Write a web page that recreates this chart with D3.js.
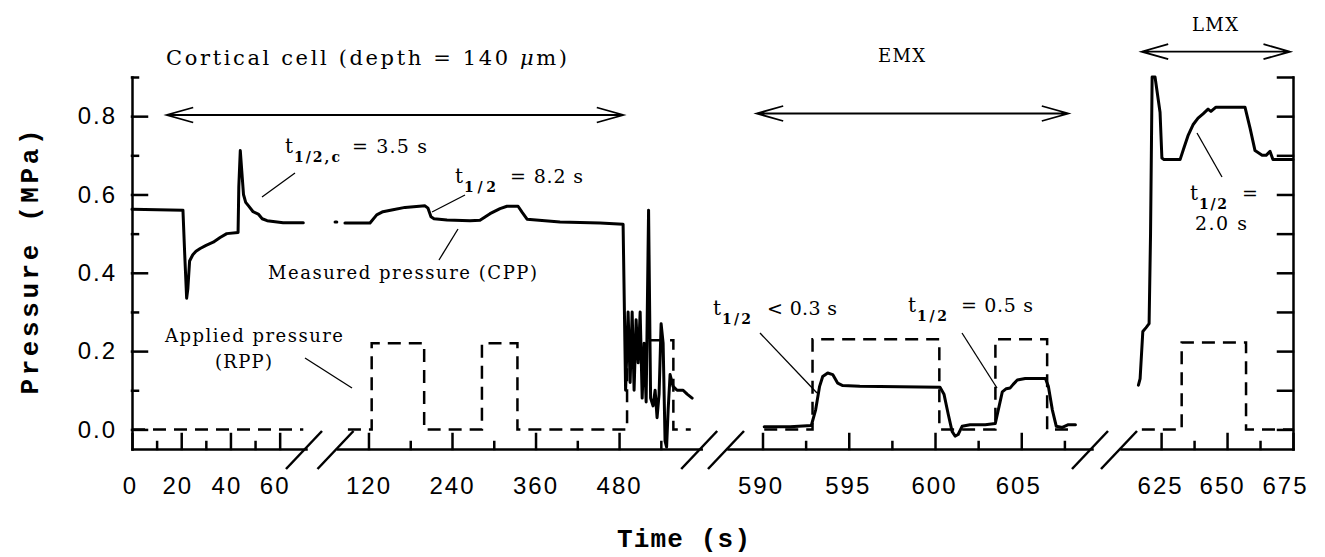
<!DOCTYPE html>
<html>
<head>
<meta charset="utf-8">
<script src="https://cdn.jsdelivr.net/npm/d3@7"></script>
<style>
  html, body { margin: 0; padding: 0; background: #fff; }
  svg { display: block; }
  .axis path, .axis line { stroke: #000; stroke-width: 2.5; stroke-linecap: square; }
  .axis text { font-family: "Liberation Sans", Arial, sans-serif; font-size: 24px; letter-spacing: 2px; fill: #000; }
  .title { font-family: "Liberation Mono", "Courier New", monospace; font-weight: bold; font-size: 26px; fill: #000; }
  .ann { font-family: "DejaVu Serif", serif; fill: #000; }
  .cpp { fill: none; stroke: #000; stroke-width: 3; stroke-linejoin: round; stroke-linecap: round; }
  .rpp { fill: none; stroke: #000; stroke-width: 2.5; stroke-dasharray: 13 8; }
  .lead { stroke: #000; stroke-width: 1.3; }
  .arrow { fill: none; stroke: #000; stroke-width: 1.8; }
</style>
</head>
<body>
<svg id="svg" width="1325" height="557"></svg>
<script>
// broken time axis: four pieces
const segDomain = [[0, 70.7], [75.5, 598], [588, 609.1], [609.8, 675]];
const xMajor = [[0, 20, 40, 60], [120, 240, 360, 480], [590, 595, 600, 605], [625, 650, 675]];
const xMinor = [[10, 30, 50], [180, 300, 420, 540], [592.5, 597.5, 602.5, 607.5], [637.5, 662.5]];
const yMajor = [0, 0.2, 0.4, 0.6, 0.8];
const yMinor = [0.1, 0.3, 0.5, 0.7, 0.9];

// measured pressure (CPP), [time s, MPa]
const cpp1 = [[0, 0.562], [20.7, 0.560], [21.4, 0.45], [22.2, 0.335], [22.7, 0.36], [23.4, 0.43], [24.7, 0.446],
  [26, 0.455], [27.7, 0.462], [30.1, 0.47], [33, 0.478], [35.8, 0.49], [38.5, 0.5], [43.1, 0.503],
  [43.4, 0.62], [44, 0.712], [44.6, 0.66], [45.3, 0.6], [46.2, 0.58], [47.2, 0.572], [49.2, 0.556],
  [51.3, 0.55], [52.9, 0.538], [54.9, 0.533], [61.4, 0.528], [69.6, 0.528]];
const cppDot = [[72, 0.53], [74.5, 0.53]];
const cpp2 = [[86.2, 0.527], [122.2, 0.527], [131.8, 0.548], [140.8, 0.556], [155.2, 0.561], [172.5, 0.567],
  [201.2, 0.571], [205.5, 0.565], [209.8, 0.543], [214.1, 0.538], [232.8, 0.535], [265.9, 0.533],
  [280.2, 0.534], [294.6, 0.551], [309, 0.564], [319, 0.57], [334.9, 0.57], [340.6, 0.555], [347.8, 0.537],
  [395.2, 0.53], [452.7, 0.527], [485.8, 0.524], [489.4, 0.10], [493, 0.30], [495.9, 0.12], [498.8, 0.30],
  [501.6, 0.10], [504.5, 0.28], [507.4, 0.17], [510.3, 0.30], [513.2, 0.08], [516, 0.22], [518.9, 0.07],
  [522.4, 0.56], [525.3, 0.08], [528.9, 0.06], [531.8, 0.10], [534.6, 0.03], [537.5, 0.09], [540.4, 0.27],
  [543.3, 0.22], [546.1, -0.03], [548.3, -0.045], [550.5, 0.05], [553.3, 0.14], [557.6, 0.11],
  [563.4, 0.10], [572, 0.10], [577.8, 0.09], [585, 0.08]];
const cpp3 = [[590.1, 0.007], [591.6, 0.007], [592.83, 0.01], [593.08, 0.05], [593.31, 0.11], [593.49, 0.135],
  [593.78, 0.144], [594.07, 0.14], [594.36, 0.118], [594.65, 0.112], [595.64, 0.11], [597.97, 0.109],
  [600.29, 0.108], [600.52, 0.09], [600.76, 0.04], [600.99, -0.005], [601.16, -0.017], [601.34, -0.013],
  [601.57, 0.008], [602.03, 0.012], [602.91, 0.012], [603.49, 0.015], [603.72, 0.06], [603.9, 0.096],
  [604.13, 0.104], [604.36, 0.106], [604.53, 0.115], [604.77, 0.126], [605.23, 0.13], [606.4, 0.13],
  [606.57, 0.11], [606.8, 0.05], [607.03, 0.008], [607.38, 0.005], [607.73, 0.012], [608.14, 0.012]];
const cpp4 = [[616.4, 0.113], [617.05, 0.13], [618.07, 0.25], [619.3, 0.26], [620.45, 0.27], [621, 0.5],
  [621.6, 0.9], [622.7, 0.9], [624.6, 0.81], [625.3, 0.693], [626.1, 0.689], [632.2, 0.689], [633.7, 0.72],
  [635.2, 0.75], [637.1, 0.778], [639, 0.795], [640.9, 0.806], [642.8, 0.818], [643.9, 0.812],
  [645.8, 0.823], [656.8, 0.823], [658.7, 0.77], [660.6, 0.712], [663.3, 0.7], [664.8, 0.7],
  [666.3, 0.71], [667.4, 0.689], [675, 0.689]];

// applied pressure (RPP)
const rpp1 = [[0, 0], [69.6, 0]];
const rpp2 = [[90.5, 0], [124.6, 0], [124.6, 0.22], [200, 0.22], [200, 0], [283, 0], [283, 0.22], [334, 0.22],
  [334, 0], [491.5, 0], [491.5, 0.228], [558, 0.228], [558, 0], [583, 0]];
const rpp3 = [[590.1, 0], [592.9, 0], [592.9, 0.23], [600.25, 0.23], [600.25, 0], [603.5, 0], [603.5, 0.23],
  [606.5, 0.23], [606.5, 0], [608.1, 0]];
const rpp4 = [[617.7, 0], [632.8, 0], [632.8, 0.222], [657.2, 0.222], [657.2, 0], [675, 0]];

const cppSeg = [cpp1, cpp2, cpp3, cpp4];
const rppSeg = [rpp1, rpp2, rpp3, rpp4];

// layout
const segRange = [[132, 306], [337.5, 701.2], [728, 1092], [1121, 1293]];
const labelShift = [[-2, -4, -4, -5], [0, 0, 0, 0], [-2, -1, -1, -3], [-1, -5, -8]];
const axisY = 449;

const svg = d3.select('#svg');
const y = d3.scaleLinear().domain([-0.05, 0.9]).range([axisY, 77]);
const xs = segDomain.map((d, i) => d3.scaleLinear().domain(d).range(segRange[i]));

// bottom axis pieces
xs.forEach((x, i) => {
  const g = svg.append('g').attr('class', 'axis').attr('transform', `translate(0,${axisY})`)
    .call(d3.axisBottom(x).tickValues(xMajor[i]).tickSize(-15).tickSizeOuter(0).tickPadding(28).tickFormat(d3.format('d')));
  g.selectAll('.tick text').attr('dx', (d, j) => labelShift[i][j]);
  svg.append('g').attr('class', 'axis').attr('transform', `translate(0,${axisY})`)
    .call(d3.axisBottom(x).tickValues(xMinor[i]).tickSize(-7).tickFormat(''))
    .call(g => g.select('.domain').remove());
});

// break marks
const breaks = [];
for (let i = 0; i < 3; i++) breaks.push(segRange[i][1] - 2, segRange[i + 1][0] - 2);
svg.append('g').selectAll('line').data(breaks).join('line')
  .attr('x1', d => d - 18).attr('y1', 469).attr('x2', d => d + 18).attr('y2', 431)
  .attr('stroke', '#000').attr('stroke-width', 2.5);

// y axes
svg.append('g').attr('class', 'axis').attr('transform', 'translate(132,0)')
  .call(d3.axisLeft(y).tickValues(yMajor).tickSize(-15).tickSizeOuter(0).tickPadding(15).tickFormat(d3.format('.1f')));
svg.append('g').attr('class', 'axis').attr('transform', 'translate(132,0)')
  .call(d3.axisLeft(y).tickValues(yMinor).tickSize(-6).tickFormat(''))
  .call(g => g.select('.domain').remove());
svg.append('g').attr('class', 'axis').attr('transform', 'translate(1293,0)')
  .call(d3.axisRight(y).tickValues(yMajor.concat(yMinor)).tickSize(-15).tickSizeOuter(0).tickFormat(''));

// traces
cppSeg.forEach((d, i) => {
  const line = d3.line().x(p => xs[i](p[0])).y(p => y(p[1]));
  svg.append('path').attr('class', 'rpp').attr('d', line(rppSeg[i]));
  svg.append('path').attr('class', 'cpp').attr('d', line(d));
});
svg.append('path').attr('class', 'cpp').attr('d', d3.line().x(p => xs[1](p[0])).y(p => y(p[1]))(cppDot));

// arrows over the three regions
function arrow(x1, x2, yy) {
  const a = 26.5, b = 7.5;
  svg.append('path').attr('class', 'arrow')
    .attr('d', `M${x1},${yy}H${x2}M${x1 + a},${yy - b}L${x1},${yy}L${x1 + a},${yy + b}M${x2 - a},${yy - b}L${x2},${yy}L${x2 - a},${yy + b}`);
}
arrow(166.7, 623.3, 115);
arrow(756.7, 1068.3, 113.5);
arrow(1141.7, 1290, 51.7);

function text(str, x, yy, size, len, bold) {
  const t = svg.append('text').attr('class', 'ann').attr('x', x).attr('y', yy)
    .attr('font-size', size).text(str);
  if (bold) t.attr('font-weight', 'bold');
  if (len) t.attr('textLength', len).attr('lengthAdjust', 'spacing');
  return t;
}
const cort = svg.append('text').attr('class', 'ann').attr('x', 166).attr('y', 65).attr('font-size', 21)
  .attr('textLength', 401).attr('lengthAdjust', 'spacing');
cort.append('tspan').text('Cortical cell (depth = 140 ');
cort.append('tspan').attr('font-style', 'italic').text('μ');
cort.append('tspan').text('m)');
text('EMX', 878, 62, 18, 47);
text('LMX', 1192, 31, 18, 46);
text('Measured pressure (CPP)', 268, 279, 18, 269);
text('Applied pressure', 165, 342, 18, 178);
text('(RPP)', 215, 368, 18, 57);

// half-time labels
function half(x, yy, sub, subLen, rest, restX, restLen) {
  text('t', x, yy, 20);
  text(sub, x + 9, yy + 9, 14, subLen, true);
  text(rest, restX, yy, 19, restLen);
}
half(285, 153, '1/2,c', 46, '= 3.5 s', 352, 75);
half(455, 183, '1/2', 32, '= 8.2 s', 510, 73);
half(713, 315, '1/2', 29, '< 0.3 s', 767, 70);
half(908, 312, '1/2', 30, '= 0.5 s', 961, 72);
half(1190, 200, '1/2', 28, '=', 1242, null);
text('2.0 s', 1195, 230, 19, 52);

// leader lines
const leads = [[295, 173, 262, 197], [465, 195, 432, 212], [458, 229, 439, 260], [305, 358, 352, 388],
  [760, 333, 817, 393], [962, 333, 997, 388], [1197, 133, 1222, 177]];
svg.append('g').selectAll('line').data(leads).join('line').attr('class', 'lead')
  .attr('x1', d => d[0]).attr('y1', d => d[1]).attr('x2', d => d[2]).attr('y2', d => d[3]);

// axis titles
svg.append('text').attr('class', 'title').attr('text-anchor', 'middle')
  .attr('transform', 'translate(38,262) rotate(-90)').attr('textLength', 265).attr('lengthAdjust', 'spacing')
  .text('Pressure (MPa)');
svg.append('text').attr('class', 'title').attr('x', 617).attr('y', 547)
  .attr('textLength', 133).attr('lengthAdjust', 'spacing').text('Time (s)');
</script>
</body>
</html>
